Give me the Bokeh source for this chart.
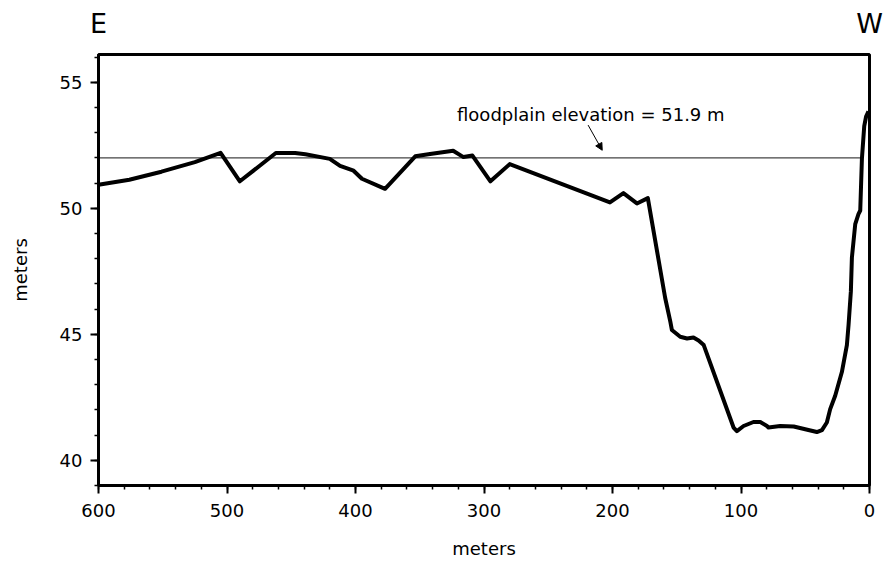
from bokeh.plotting import figure
from bokeh.models import (Range1d, SingleIntervalTicker, FixedTicker, LinearAxis,
                          Label, Arrow, NormalHead)
from bokeh.embed import file_html
from bokeh.resources import INLINE

# ---- data ----
profile_x = [600, 576, 551, 525, 505, 490, 462, 447, 439, 420, 412, 401.5, 395, 377,
             353.5, 342, 324, 316, 309, 295, 280, 202, 191.5, 181, 172.5, 159, 155,
             153.8, 147.3, 142, 137, 133, 129, 105.8, 103.2, 98, 90.3, 85, 79.8, 78.6,
             69.5, 59, 41, 37, 33.2, 30.6, 26.7, 21.5, 17.6, 16.3, 14.5, 13.7, 11.1,
             8.6, 7.2, 5.9, 4.1, 2.6, 0.8]
profile_y = [50.93, 51.13, 51.45, 51.83, 52.2, 51.07, 52.19, 52.19, 52.14, 51.96, 51.68,
             51.49, 51.17, 50.77, 52.06, 52.15, 52.28, 52.03, 52.09, 51.07, 51.75, 50.23,
             50.6, 50.19, 50.4, 46.44, 45.5, 45.17, 44.9, 44.83, 44.87, 44.75, 44.57,
             41.3, 41.16, 41.36, 41.52, 41.52, 41.36, 41.3, 41.36, 41.34, 41.12, 41.2,
             41.5, 42.03, 42.56, 43.5, 44.57, 45.37, 46.7, 48.04, 49.37, 49.77, 49.91,
             51.97, 53.26, 53.65, 53.84]
floodplain_x = [600, 5]
floodplain_elev = 52.0
annotation_text = "floodplain elevation = 51.9 m"
x_label = "meters"
y_label = "meters"
direction_x = [600, 0]
direction_labels = ["E", "W"]

FONT = "DejaVu Sans"

p = figure(width=884, height=561, output_backend="svg", toolbar_location=None,
           x_range=Range1d(600, 0), y_range=Range1d(39, 56.1),
           min_border_left=98, min_border_top=54, min_border_right=15,
           min_border_bottom=76)
p.grid.visible = False
p.outline_line_color = "black"
p.outline_line_width = 3
p.background_fill_color = "white"
p.border_fill_color = "white"

p.xaxis.ticker = SingleIntervalTicker(interval=100, num_minor_ticks=5)
p.yaxis.ticker = SingleIntervalTicker(interval=5, num_minor_ticks=5)
for ax in (p.xaxis, p.yaxis):
    ax.axis_line_width = 3
    ax.axis_line_color = "black"
    ax.major_tick_line_width = 2
    ax.minor_tick_line_width = 1.5
    ax.major_tick_out = 8
    ax.major_tick_in = 0
    ax.minor_tick_out = 4
    ax.minor_tick_in = 0
    ax.major_label_text_font = FONT
    ax.major_label_text_font_size = "18px"
    ax.major_label_text_color = "black"
    ax.axis_label_text_font = FONT
    ax.axis_label_text_font_size = "18px"
    ax.axis_label_text_font_style = "normal"
    ax.axis_label_text_color = "black"

p.xaxis.axis_label = x_label
p.yaxis.axis_label = y_label
p.xaxis.major_label_standoff = 10
p.xaxis.axis_label_standoff = 18
p.yaxis.major_label_standoff = 8
p.yaxis.axis_label_standoff = 26

# direction labels (E / W) as a label-only axis above the frame
top = LinearAxis(ticker=FixedTicker(ticks=direction_x),
                 major_label_overrides={v: t for v, t in zip(direction_x, direction_labels)})
top.axis_line_color = None
top.major_tick_line_color = None
top.minor_tick_line_color = None
top.major_label_text_font = FONT
top.major_label_text_font_size = "27px"
top.major_label_text_color = "black"
top.major_label_standoff = 10
p.add_layout(top, "above")

# floodplain line
p.line(floodplain_x, [floodplain_elev] * len(floodplain_x), line_color="#444444", line_width=1.2)

# profile
p.line(profile_x, profile_y, line_color="black", line_width=4, line_join="round")

# annotation
p.add_layout(Label(x=321, y=53.7, text=annotation_text, text_font=FONT,
                   text_font_size="18px", text_color="black", text_align="left",
                   text_baseline="alphabetic"))
p.add_layout(Arrow(x_start=219, y_start=53.3, x_end=208, y_end=52.3,
                   line_color="black", line_width=1,
                   end=NormalHead(size=7, fill_color="black", line_color="black")))

open("out.html", "w").write(file_html(p, INLINE))
